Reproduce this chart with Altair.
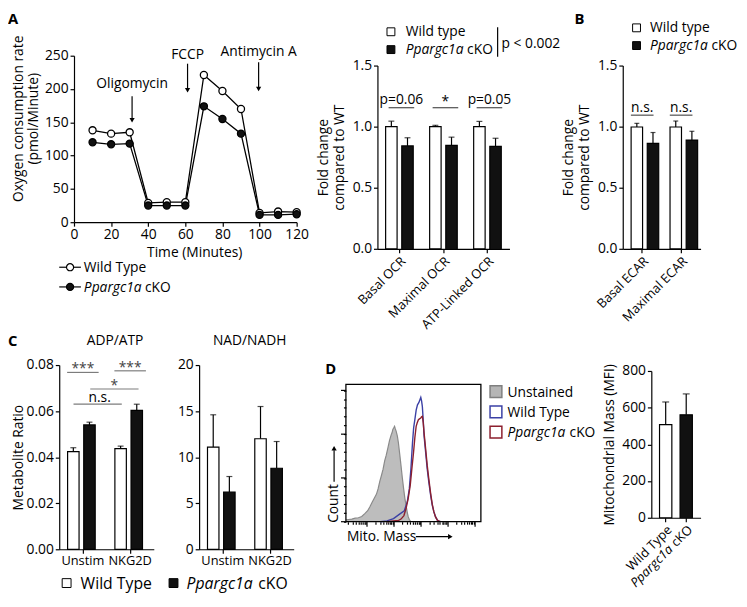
import altair as alt
import pandas as pd

FONT = "Open Sans"
FS = 14
GENO = ["Wild type", "Ppargc1a cKO"]

# ---------------- data ----------------
# A: OCR trace
time_min = [10, 20, 30, 40, 50, 60, 70, 80, 90, 100, 110, 120]
ocr_wt = [138, 133, 135, 29, 30, 30, 221, 197, 170, 14, 16, 15]
ocr_ko = [120, 117, 118, 25, 25, 25, 174, 155, 133, 11, 11, 12]
inject_names = ["Oligomycin", "FCCP", "Antimycin A"]
inject_time = [31.3, 61.2, 99.5]
inject_label_y = [207, 251, 256]
inject_arrow_top = [189, 238, 240]
inject_arrow_tip = [153, 198, 200]

# A: fold-change OCR bars
ocr_params = ["Basal OCR", "Maximal OCR", "ATP-Linked OCR"]
ocr_wt_mean = [1.0, 1.0, 1.0]
ocr_wt_sem = [0.045, 0.011, 0.043]
ocr_ko_mean = [0.842, 0.847, 0.839]
ocr_ko_sem = [0.067, 0.067, 0.066]
ocr_sig = ["p=0.06", "*", "p=0.05"]
ocr_sig_line = [1.155, 1.155, 1.155]
ocr_sig_text = [1.185, 1.17, 1.185]

# B: fold-change ECAR bars
ecar_params = ["Basal ECAR", "Maximal ECAR"]
ecar_wt_mean = [0.997, 0.997]
ecar_wt_sem = [0.030, 0.049]
ecar_ko_mean = [0.863, 0.890]
ecar_ko_sem = [0.089, 0.072]
ecar_sig = ["n.s.", "n.s."]
ecar_sig_line = [1.094, 1.094]
ecar_sig_text = [1.116, 1.116]

# C: metabolite ratios
stim = ["Unstim", "NKG2D"]
adp_wt = [0.0424, 0.0437]
adp_wt_sem = [0.0017, 0.0011]
adp_ko = [0.0540, 0.0603]
adp_ko_sem = [0.0012, 0.0027]
adp_pair_label = ["***", "***"]
adp_pair_line = [0.0768, 0.0775]
adp_cross_star_line = [0.0696]
adp_cross_ns_line = [0.0630]
nad_wt = [11.1, 12.0]
nad_wt_sem = [3.5, 3.5]
nad_ko = [6.2, 8.8]
nad_ko_sem = [1.7, 2.9]

# D: flow histogram (channel, count)
unst_ch = [0, 20, 45, 70, 95, 120, 145, 165, 182, 200, 219, 232, 244, 257, 269, 282,
           294, 306, 319, 331, 344, 350, 356, 362, 369, 375, 381, 390, 398, 408, 418,
           428, 438, 447, 456, 465, 473, 481, 488, 495]
unst_ct = [4, 5, 6, 8, 9, 12, 19, 25, 34, 45, 56, 63, 75, 92, 105, 120,
           139, 152, 169, 186, 199, 203, 211, 214, 218, 212, 207, 196, 181, 155, 128,
           100, 75, 54, 38, 22, 11, 5, 2, 0]
wt_ch = [263, 312, 361, 410, 443, 465, 481, 493, 505, 514, 523, 533, 543, 553, 563,
         568, 574, 580, 587, 593, 605, 617, 630, 643, 655, 667, 680, 693, 705, 718]
wt_ct = [0, 2, 7, 18, 25, 45, 75, 120, 180, 215, 233, 255, 267, 272, 280,
         284, 276, 263, 230, 196, 158, 120, 88, 60, 38, 23, 11, 4, 1, 0]
ko_ch = [312, 361, 400, 418, 440, 456, 472, 488, 500, 513, 523, 533, 541, 550, 558,
         568, 574, 580, 587, 593, 605, 617, 630, 643, 655, 667, 680, 693, 705, 718]
ko_ct = [0, 2, 3, 6, 14, 30, 52, 83, 120, 158, 192, 218, 226, 233, 235,
         237, 240, 241, 225, 203, 166, 128, 95, 64, 40, 23, 11, 4, 1, 0]
hist_x_major = [160, 365, 570, 775, 980]
hist_decade_starts = [-45, 160, 365, 570, 775]
hist_log_offsets = [62, 98, 123, 143, 160, 173, 185, 196]
hist_y_minor = [0, 20, 40, 60, 80, 100, 120, 140, 160, 180, 200, 220, 240, 260, 280, 300]
hist_y_major = [0, 100, 200, 300]

# D: MFI bars
mfi_geno = ["Wild Type", "Ppargc1a cKO"]
mfi_mean = [508, 561]
mfi_sem = [123, 114]
mfi_label_main = ["Wild Type", "cKO"]
mfi_label_ital = ["", "Ppargc1a"]

BLUE = "#3b40a5"
RED = "#8c1f2e"

# ---------------- helpers ----------------
ONE = pd.DataFrame({"k": [0]})


def frame(l, t, r, b):
    return alt.Chart(ONE).mark_rect(opacity=0).encode(
        x=alt.value(l), x2=alt.value(r), y=alt.value(t), y2=alt.value(b))


def txt(s, x, y, size=FS, style="normal", weight="normal", align="left",
        baseline="alphabetic", angle=0, color="black"):
    return alt.Chart(ONE).mark_text(
        text=s, font=FONT, fontSize=size, fontStyle=style, fontWeight=weight,
        align=align, baseline=baseline, angle=angle, color=color
    ).encode(x=alt.value(x), y=alt.value(y))


def seg(x1, y1, x2, y2, color="black", w=1.2):
    return alt.Chart(ONE).mark_rule(color=color, strokeWidth=w).encode(
        x=alt.value(x1), y=alt.value(y1), x2=alt.value(x2), y2=alt.value(y2))


def sym(x, y, shape, size, fill, stroke="black", w=1.2):
    return alt.Chart(ONE).mark_point(
        shape=shape, size=size, filled=True, fill=fill, stroke=stroke,
        strokeWidth=w, opacity=1).encode(x=alt.value(x), y=alt.value(y))


def bar_df(cats, wt, wt_e, ko, ko_e):
    means = wt + ko
    errs = wt_e + ko_e
    return pd.DataFrame({
        "cat": cats + cats,
        "geno": [GENO[0]] * len(cats) + [GENO[1]] * len(cats),
        "mean": means,
        "upper": [m + e for m, e in zip(means, errs)],
    })


FILL = alt.Fill("geno:N", scale=alt.Scale(domain=GENO, range=["white", "#111111"]), legend=None)


def bar_layers(df, X, XO, Y, cap):
    base = alt.Chart(df)
    err = base.mark_rule(color="black", strokeWidth=1.2).encode(
        x=X, xOffset=XO, y=Y("mean"), y2="upper")
    bars = base.mark_bar(stroke="black", strokeWidth=1.2).encode(
        x=X, xOffset=XO, y=Y("mean"), fill=FILL)
    caps = base.mark_tick(color="black", thickness=1.2, size=cap, orient="horizontal").encode(
        x=X, xOffset=XO, y=Y("upper"))
    return [err, bars, caps]


def bracket(df, X, Y, size, xoff, color="black"):
    return alt.Chart(df).mark_tick(color=color, thickness=1.2, size=size,
                                   orient="horizontal", xOffset=xoff).encode(x=X, y=Y("line"))


def sigtext(df, X, Y, xoff, size=FS, dy=0, color="black"):
    return alt.Chart(df).mark_text(font=FONT, fontSize=size, baseline="alphabetic",
                                   xOffset=xoff, dy=dy, color=color).encode(
        x=X, y=Y("txt"), text="label:N")


def yfac(domain, values, fmt, title, rng, pad=5):
    def f(field):
        return alt.Y(f"{field}:Q", scale=alt.Scale(domain=domain, nice=False, zero=True, range=rng),
                     axis=alt.Axis(values=values, format=fmt, title=title, titlePadding=pad))
    return f


ROT_AXIS = dict(title=None, labelAngle=-45, labelAlign="right", labelBaseline="top",
                labelFontSize=13, labelOverlap=False)

# ---------------- A: OCR trace ----------------
WA, HA = 241, 169
trace_df = pd.DataFrame({
    "time": time_min + time_min,
    "ocr": ocr_wt + ocr_ko,
    "geno": [GENO[0]] * len(time_min) + [GENO[1]] * len(time_min),
})
XA = alt.X("time:Q", scale=alt.Scale(domain=[0, 120], nice=False, range=[15, 241]),
           axis=alt.Axis(values=[0, 20, 40, 60, 80, 100, 120], title="Time (Minutes)",
                         titlePadding=4, titleX=137))


def YA(field):
    return alt.Y(f"{field}:Q", scale=alt.Scale(domain=[0, 250], nice=False),
                 axis=alt.Axis(values=[0, 50, 100, 150, 200, 250], title=None, offset=-15))


inj_df = pd.DataFrame({"time": inject_time, "lab": inject_label_y, "top": inject_arrow_top,
                       "tip": inject_arrow_tip, "label": inject_names})
trace_line = alt.Chart(trace_df).mark_line(color="black", strokeWidth=1.3).encode(
    x=XA, y=YA("ocr"), detail="geno:N")
trace_pts = alt.Chart(trace_df).mark_point(shape="circle", filled=True, size=52, stroke="black",
                                           strokeWidth=1.3, opacity=1).encode(
    x=XA, y=YA("ocr"), fill=FILL)
inj_text = alt.Chart(inj_df).mark_text(font=FONT, fontSize=FS, baseline="middle").encode(
    x=XA, y=YA("lab"), text="label:N")
inj_arrow = alt.Chart(inj_df).mark_rule(color="black", strokeWidth=1.2).encode(
    x=XA, y=YA("top"), y2="tip")
inj_head = alt.Chart(inj_df).mark_point(shape="triangle-down", filled=True, color="black",
                                        size=28, opacity=1).encode(x=XA, y=YA("tip"))

panelA = alt.layer(
    frame(-52, -44, 258, 280),
    trace_line, trace_pts, inj_arrow, inj_head, inj_text,
    txt("Oxygen consumption rate", -41, 64, angle=270, align="center", baseline="middle"),
    txt("(pmol/Minute)", -26, 64, angle=270, align="center", baseline="middle"),
    seg(0, 214.7, 22, 214.7), sym(11, 214.7, "circle", 52, "white"),
    txt("Wild Type", 25, 219.7),
    seg(0, 234.7, 22, 234.7), sym(11, 234.7, "circle", 52, "#111111"),
    txt("Ppargc1a", 25, 239.7, style="italic"), txt("cKO", 87, 239.7),
    txt("A", -52, -44, size=15, weight="bold", baseline="top"),
).properties(width=WA, height=HA)

# ---------------- A: fold-change OCR ----------------
WOB, HOB = 134, 196
X_OB = alt.X("cat:N", scale=alt.Scale(domain=ocr_params, paddingInner=0.373, paddingOuter=0.186),
             axis=alt.Axis(**ROT_AXIS))
XO_OB = alt.XOffset("geno:N", scale=alt.Scale(domain=GENO, paddingInner=0.29, paddingOuter=0))
Y_FOLD = yfac([0, 1.5], [0, 0.5, 1.0, 1.5], ".1f", ["Fold change", "compared to WT"],
              [196, 10], pad=6)
ocr_bars = bar_df(ocr_params, ocr_wt_mean, ocr_wt_sem, ocr_ko_mean, ocr_ko_sem)
ocr_sig_df = pd.DataFrame({"cat": ocr_params, "label": ocr_sig, "line": ocr_sig_line,
                           "txt": ocr_sig_text})
panelA2 = alt.layer(
    frame(-65, -44, 187, 280),
    *bar_layers(ocr_bars, X_OB, XO_OB, Y_FOLD, 6),
    bracket(ocr_sig_df, X_OB, Y_FOLD, 26, 2),
    sigtext(ocr_sig_df, X_OB, Y_FOLD, 2),
    sym(13.7, -24.3, "square", 64, "white", w=1),
    sym(13.7, -6.2, "square", 64, "#111111", w=1),
    txt("Wild type", 28.7, -20.2),
    txt("Ppargc1a", 28.7, -2, style="italic"), txt("cKO", 91, -2),
    seg(122, -29, 122, 1),
    txt("p < 0.002", 126, -8),
).properties(width=WOB, height=HOB)

# ---------------- B: fold-change ECAR ----------------
WEB, HEB = 79, 196
X_EB = alt.X("cat:N", scale=alt.Scale(domain=ecar_params, paddingInner=0.43, paddingOuter=0.215),
             axis=alt.Axis(**ROT_AXIS))
XO_EB = alt.XOffset("geno:N", scale=alt.Scale(domain=GENO, paddingInner=0.45, paddingOuter=0))
ecar_bars = bar_df(ecar_params, ecar_wt_mean, ecar_wt_sem, ecar_ko_mean, ecar_ko_sem)
ecar_sig_df = pd.DataFrame({"cat": ecar_params, "label": ecar_sig, "line": ecar_sig_line,
                            "txt": ecar_sig_text})
panelB = alt.layer(
    frame(-59, -44, 118, 280),
    *bar_layers(ecar_bars, X_EB, XO_EB, Y_FOLD, 5),
    bracket(ecar_sig_df, X_EB, Y_FOLD, 23, 0),
    sigtext(ecar_sig_df, X_EB, Y_FOLD, 0),
    sym(14, -28.3, "square", 64, "white", w=1),
    sym(14, -10.3, "square", 64, "#111111", w=1),
    txt("Wild type", 27.7, -24),
    txt("Ppargc1a", 27.7, -6, style="italic"), txt("cKO", 90, -6),
    txt("B", -49, -44, size=15, weight="bold", baseline="top"),
).properties(width=WEB, height=HEB)

# ---------------- C: metabolite ratios ----------------
WC, HC = 96, 187
X_C = alt.X("cat:N", scale=alt.Scale(domain=stim, paddingInner=0.354, paddingOuter=0.177),
            axis=alt.Axis(title=None, labelAngle=0, labelOverlap=False, labelPadding=1,
                          labelFontSize=13))
XO_C = alt.XOffset("geno:N", scale=alt.Scale(domain=GENO, paddingInner=0.28, paddingOuter=0))
Y_ADP = yfac([0, 0.08], [0, 0.02, 0.04, 0.06, 0.08], ".2f", "Metabolite Ratio", [HC, 0], pad=1)
Y_NAD = yfac([0, 20], [0, 5, 10, 15, 20], "d", None, [HC, 0])
adp_bars = bar_df(stim, adp_wt, adp_wt_sem, adp_ko, adp_ko_sem)
nad_bars = bar_df(stim, nad_wt, nad_wt_sem, nad_ko, nad_ko_sem)
pair_df = pd.DataFrame({"cat": stim, "label": adp_pair_label, "line": adp_pair_line,
                        "txt": adp_pair_line})
star_df = pd.DataFrame({"cat": [stim[0]], "label": ["*"], "line": adp_cross_star_line,
                        "txt": adp_cross_star_line})
ns_df = pd.DataFrame({"cat": [stim[0]], "label": ["n.s."], "line": adp_cross_ns_line,
                      "txt": adp_cross_ns_line})
SIGC = "#444444"
panelC1 = alt.layer(
    frame(-52, -33.5, 105, 231),
    *bar_layers(adp_bars, X_C, XO_C, Y_ADP, 6),
    bracket(pair_df, X_C, Y_ADP, 32, 0, color=SIGC),
    sigtext(pair_df, X_C, Y_ADP, 0, dy=1, color=SIGC),
    bracket(star_df, X_C, Y_ADP, 49, 32, color=SIGC),
    sigtext(star_df, X_C, Y_ADP, 32, dy=1, color=SIGC),
    bracket(ns_df, X_C, Y_ADP, 49, 15, color=SIGC),
    sigtext(ns_df, X_C, Y_ADP, 17, dy=-2, color="black"),
    txt("ADP/ATP", 56.7, -24.5, baseline="middle", align="center"),
    txt("C", -52, -31, size=15, weight="bold", baseline="top"),
    sym(7.5, 221.3, "square", 81, "white", w=1),
    txt("Wild Type", 21.7, 227, size=16),
).properties(width=WC, height=HC)

panelC2 = alt.layer(
    frame(-37, -33.5, 116, 231),
    *bar_layers(nad_bars, X_C, XO_C, Y_NAD, 6),
    txt("NAD/NADH", 51.3, -24.5, baseline="middle", align="center"),
    sym(-26, 221.3, "square", 81, "#111111", w=1),
    txt("Ppargc1a", -12.7, 227, size=16, style="italic"),
    txt("cKO", 60, 227, size=16),
).properties(width=WC, height=HC)

# ---------------- D: flow histogram ----------------
WD, HD, TD = 137, 159, 19.5
hist_x_minor = [d + o for d in hist_decade_starts for o in hist_log_offsets if 0 <= d + o <= 1024]
XD = alt.X("ch:Q", scale=alt.Scale(domain=[0, 1024], nice=False),
           axis=alt.Axis(values=hist_x_minor, labels=False, title=None, domain=False,
                         tickSize=2.5))
YD = alt.Y("ct:Q", scale=alt.Scale(domain=[0, 314], nice=False, range=[HD, TD]),
           axis=alt.Axis(values=hist_y_minor, labels=False, title=None, domain=False,
                         tickSize=2.5))
unst_df = pd.DataFrame({"ch": unst_ch, "ct": unst_ct})
wt_df = pd.DataFrame({"ch": wt_ch, "ct": wt_ct})
ko_df = pd.DataFrame({"ch": ko_ch, "ct": ko_ct})
xmaj_df = pd.DataFrame({"ch": hist_x_major})
ymaj_df = pd.DataFrame({"ct": hist_y_major})
panelD = alt.layer(
    frame(-33, -33.5, 255, 231),
    alt.Chart(unst_df).mark_area(color="#bdbdbd", opacity=1).encode(x=XD, y=YD),
    alt.Chart(unst_df).mark_line(color="#8a8a8a", strokeWidth=1.2).encode(x=XD, y=YD),
    alt.Chart(wt_df).mark_line(color=BLUE, strokeWidth=1.4).encode(x=XD, y=YD),
    alt.Chart(ko_df).mark_line(color=RED, strokeWidth=1.4).encode(x=XD, y=YD),
    alt.Chart(xmaj_df).mark_rule(color="black", strokeWidth=1.2).encode(
        x=XD, y=alt.value(HD), y2=alt.value(HD + 5)),
    alt.Chart(ymaj_df).mark_rule(color="black", strokeWidth=1.2).encode(
        y=YD, x=alt.value(-5), x2=alt.value(0)),
    alt.Chart(ONE).mark_rect(fillOpacity=0, stroke="black", strokeWidth=1.3).encode(
        x=alt.value(0), x2=alt.value(WD), y=alt.value(TD), y2=alt.value(HD)),
    txt("Count", -12, 140.5, angle=270, align="center", baseline="middle"),
    seg(-12, 118.5, -12, 86.5),
    sym(-12, 84.5, "triangle-up", 28, "black", w=0),
    txt("Mito. Mass", 1, 174.2, baseline="middle"),
    seg(71, 174.2, 104, 174.2),
    sym(106, 174.2, "triangle-right", 28, "black", w=0),
    sym(152.3, 27, "square", 144, "#b5b5b5", stroke="#7f7f7f", w=1.5),
    sym(152.3, 47.5, "square", 144, "white", stroke=BLUE, w=1.5),
    sym(152.3, 68, "square", 144, "white", stroke=RED, w=1.5),
    txt("Unstained", 164, 32.5),
    txt("Wild Type", 164, 53),
    txt("Ppargc1a", 164, 73.5, style="italic"), txt("cKO", 227, 73.5),
    txt("D", -21, -2.5, size=15, weight="bold", baseline="top"),
).properties(width=WD, height=HD)

# ---------------- D: MFI bars ----------------
WM, HM = 50, 155
mfi_df = pd.DataFrame({
    "geno": mfi_geno, "mean": mfi_mean,
    "upper": [m + e for m, e in zip(mfi_mean, mfi_sem)],
    "main": mfi_label_main, "ital": mfi_label_ital,
})
X_M = alt.X("geno:N", scale=alt.Scale(domain=mfi_geno, paddingInner=0.4, paddingOuter=0.4),
            axis=alt.Axis(title=None, labels=False))
Y_M = yfac([0, 800], [0, 200, 400, 600, 800], "d", "Mitochondrial Mass (MFI)", [HM, 6], pad=5)
FILL_M = alt.Fill("geno:N", scale=alt.Scale(domain=mfi_geno, range=["white", "#111111"]),
                  legend=None)
mbase = alt.Chart(mfi_df)
panelM = alt.layer(
    frame(-55, -33.5, 86, 231),
    mbase.mark_rule(color="black", strokeWidth=1.2).encode(x=X_M, y=Y_M("mean"), y2="upper"),
    mbase.mark_bar(stroke="black", strokeWidth=1.2).encode(x=X_M, y=Y_M("mean"), fill=FILL_M),
    mbase.mark_tick(color="black", thickness=1.2, size=7, orient="horizontal").encode(
        x=X_M, y=Y_M("upper")),
    mbase.mark_text(font=FONT, fontSize=13, angle=315, align="right", baseline="top").encode(
        x=X_M, y=alt.value(HM + 6), text="main:N"),
    mbase.mark_text(font=FONT, fontSize=13, fontStyle="italic", angle=315, align="right",
                    baseline="top", dx=-28).encode(
        x=X_M, y=alt.value(HM + 6), text="ital:N"),
).properties(width=WM, height=HM)

# ---------------- assemble ----------------
row1 = alt.hconcat(panelA, panelA2, panelB, spacing=0)
row2 = alt.hconcat(panelC1, panelC2, panelD, panelM, spacing=0)
chart = alt.vconcat(row1, row2, spacing=0, padding=0).configure_view(
    stroke=None
).configure_axis(
    domainColor="black", domainWidth=1.2, tickColor="black", tickWidth=1.2, tickSize=4,
    labelColor="black", labelFont=FONT, labelFontSize=FS, titleFont=FONT,
    titleFontSize=FS, titleFontWeight="normal", titleColor="black", grid=False,
    labelPadding=2, labelFlush=False
).configure_text(font=FONT, color="black")

chart.save("out.html", embed_options={"renderer": "svg", "actions": False})
